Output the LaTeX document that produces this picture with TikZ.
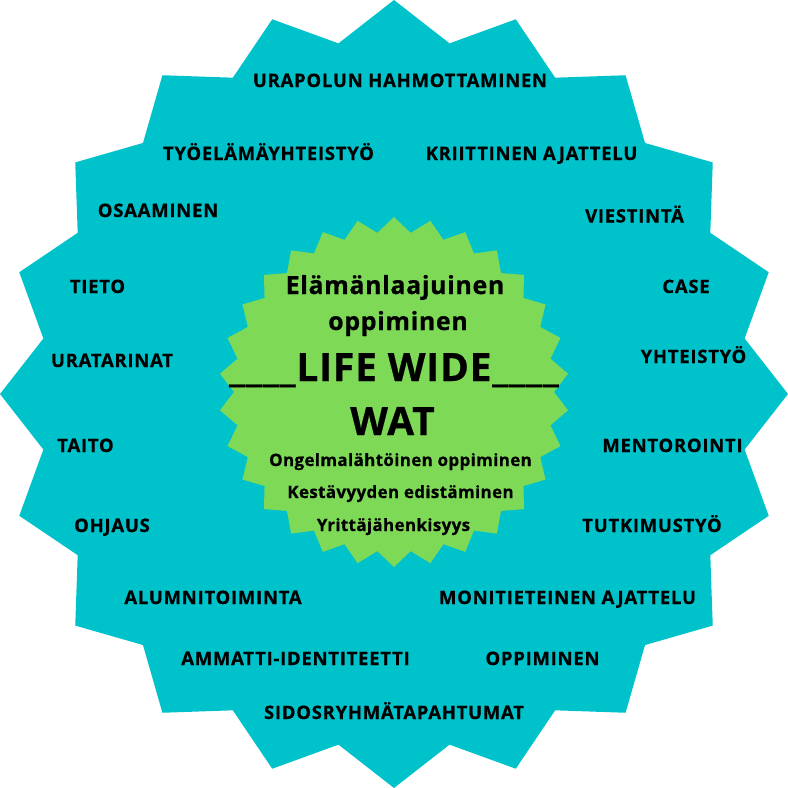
\documentclass[tikz,border=0pt]{standalone}
\usepackage{fontspec}
\setmainfont[BoldFeatures={FakeBold=0.6}]{Open Sans}
\definecolor{tealbg}{HTML}{00C2CB}
\definecolor{greenbg}{HTML}{7ED957}
\tikzset{
  lbl/.style={anchor=base, inner sep=0pt, font=\bfseries\fontsize{18.5}{20}\selectfont\addfontfeatures{LetterSpace=4}},
  mid/.style={anchor=base, inner sep=0pt, font=\bfseries\fontsize{17}{19}\selectfont\addfontfeatures{LetterSpace=2}},
  big/.style={anchor=base, inner sep=0pt, font=\bfseries\fontsize{25}{27}\selectfont\addfontfeatures{LetterSpace=2.5}},
  huge/.style={anchor=base, inner sep=0pt, font=\bfseries\fontsize{39}{42}\selectfont\addfontfeatures{LetterSpace=2,FakeBold=1.4}},
}
\begin{document}
\begin{tikzpicture}[x=1pt,y=-1pt]
\useasboundingbox (0,0) rectangle (788,788);
% outer star: 20 points
\fill[tealbg] ([shift={(394,394)}]-90:394)
  \foreach \i [evaluate=\i as \r using {int(mod(\i,2))==0 ? 394 : 355}] in {1,...,39} {
    -- ([shift={(394,394)}]{-90+9*\i}:\r)
  } -- cycle;
% inner star: 30 points
\fill[greenbg] ([shift={(394,392)}]-90:175)
  \foreach \i [evaluate=\i as \r using {int(mod(\i,2))==0 ? 175 : 160}] in {1,...,59} {
    -- ([shift={(394,392)}]{-90+6*\i}:\r)
  } -- cycle;
% outer labels
\node[lbl] (l1) at (400,87) {URAPOLUN HAHMOTTAMINEN};
\node[lbl] (l2) at (268.5,160) {TYÖELÄMÄYHTEISTYÖ};
\node[lbl] (l3) at (531.5,160) {KRIITTINEN AJATTELU};
\node[lbl] (l4) at (158,217) {OSAAMINEN};
\node[lbl] (l5) at (634.5,222.5) {VIESTINTÄ};
\node[lbl] (l6) at (97.5,293) {TIETO};
\node[lbl] (l7) at (686,293) {CASE};
\node[lbl] (l8) at (112,367) {URATARINAT};
\node[lbl] (l9) at (693.5,363) {YHTEISTYÖ};
\node[lbl] (l10) at (85.5,452) {TAITO};
\node[lbl] (l11) at (672.5,452) {MENTOROINTI};
\node[lbl] (l12) at (112,532) {OHJAUS};
\node[lbl] (l13) at (652,532) {TUTKIMUSTYÖ};
\node[lbl] (l14) at (213,604) {ALUMNITOIMINTA};
\node[lbl] (l15) at (567.5,604) {MONITIETEINEN AJATTELU};
\node[lbl] (l16) at (295.5,665) {AMMATTI-IDENTITEETTI};
\node[lbl] (l17) at (542.5,665) {OPPIMINEN};
\node[lbl] (l18) at (394,719) {SIDOSRYHMÄTAPAHTUMAT};
% centre texts
\node[big] (c1) at (395,294) {Elämänlaajuinen};
\node[big] (c2) at (398,330) {oppiminen};
\node[huge] (c3) at (394,381) {\_\_\_\_LIFE WIDE\_\_\_\_};
\node[huge] (c4) at (392.5,435) {WAT};
\node[mid] (c5) at (400.5,466) {Ongelmalähtöinen oppiminen};
\node[mid] (c6) at (400.5,498) {Kestävyyden edistäminen};
\node[mid] (c7) at (393.5,531) {Yrittäjähenkisyys};
\end{tikzpicture}
\end{document}
